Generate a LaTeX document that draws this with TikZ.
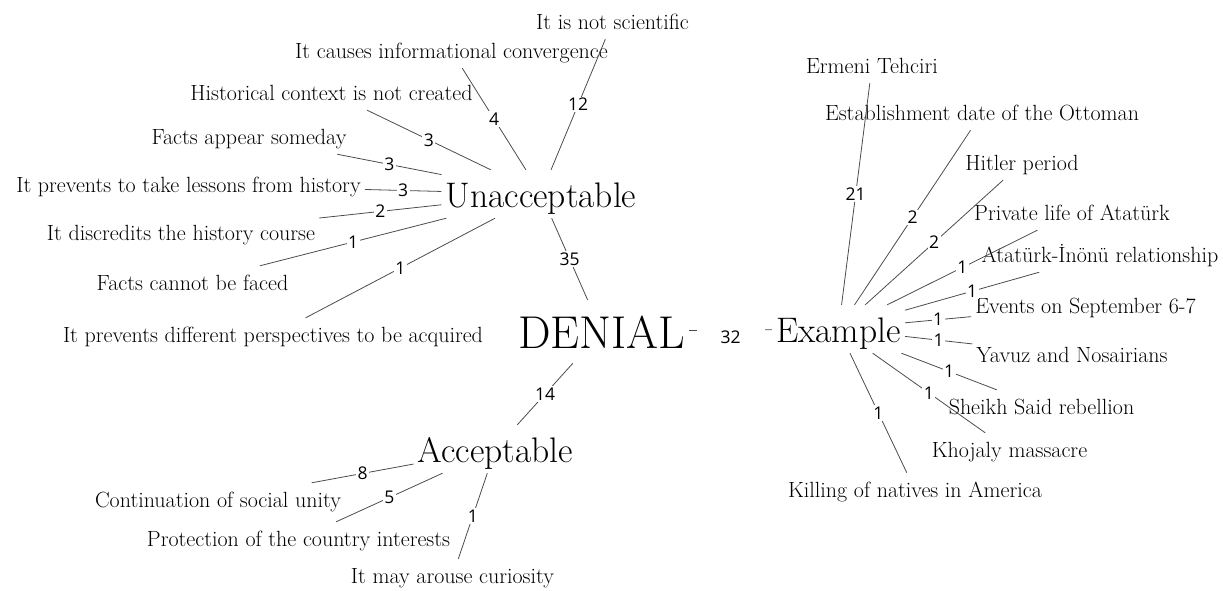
\documentclass[tikz,border=0pt]{standalone}
\usepackage{fontspec}
\newfontfamily\numfont{Open Sans}
\usepackage{tikz}
\tikzset{
    root/.style={font=\fontsize{46}{46}\selectfont, text height=46pt, text depth=13pt,
        inner xsep=4pt, inner ysep=2pt, anchor=base},
    cat/.style={font=\fontsize{35.5}{35.5}\selectfont, text height=35pt, text depth=9pt,
        inner xsep=4pt, inner ysep=2pt, anchor=base},
    leaf/.style={font=\fontsize{22}{22}\selectfont, text height=22pt, text depth=8pt,
        inner xsep=4pt, inner ysep=2pt, anchor=base},
    edge/.style={draw=black!70, line width=0.8pt},
    cnt/.style={font=\numfont\fontsize{17.5}{17.5}\selectfont, fill=white,
        inner sep=1.5pt, midway}
}
\newcommand{\branch}[3] {
	\draw[edge] (#1) -- node[cnt] {#3} (#2);
}

\begin{document}
\begin{tikzpicture}[x=1pt, y=-1pt]
		\useasboundingbox (0,0) rectangle (1223,590);

		% centre and categories
		\node[root] (denial) at (601.5,348) {DENIAL};
		\node[cat] (unacc) at (541,207) {Unacceptable};
		\node[cat] (acc) at (495.5,462) {Acceptable};
		\node[cat] (exam) at (838.5,342) {Example};

		% Unacceptable side
		\node[leaf] (u1) at (612.5,29) {It is not scientific};
		\node[leaf] (u2) at (451.5,58) {It causes informational convergence};
		\node[leaf] (u3) at (331.5,100) {Historical context is not created};
		\node[leaf] (u4) at (249,144) {Facts appear someday};
		\node[leaf] (u5) at (188.5,192) {It prevents to take lessons from history};
		\node[leaf] (u6) at (181,240) {It discredits the history course};
		\node[leaf] (u7) at (192.5,290) {Facts cannot be faced};
		\node[leaf] (u8) at (273,342) {It prevents different perspectives to be acquired};

		% Acceptable side
		\node[leaf] (a1) at (218,507) {Continuation of social unity};
		\node[leaf] (a2) at (298.5,546) {Protection of the country interests};
		\node[leaf] (a3) at (452.5,583) {It may arouse curiosity};

		% Example side
		\node[leaf] (e1) at (872,73) {Ermeni Tehciri};
		\node[leaf] (e2) at (982,120) {Establishment date of the Ottoman};
		\node[leaf] (e3) at (1022,170) {Hitler period};
		\node[leaf] (e4) at (1072,220) {Private life of Atatürk};
		\node[leaf] (e5) at (1100,262) {Atatürk-İnönü relationship};
		\node[leaf] (e6) at (1085.5,313) {Events on September 6-7};
		\node[leaf] (e7) at (1072,362) {Yavuz and Nosairians};
		\node[leaf] (e8) at (1041.5,414) {Sheikh Said rebellion};
		\node[leaf] (e9) at (1009.5,457) {Khojaly massacre};
		\node[leaf] (e10) at (915,497) {Killing of natives in America};

		% links
		\branch{unacc}{denial}{35}
		\branch{denial}{acc}{14}
		\draw[edge] (denial) -- node[cnt, minimum width=68pt, yshift=-7pt] {32} (exam);

		\branch{unacc}{u1}{12}
		\branch{unacc}{u2}{4}
		\branch{unacc}{u3}{3}
		\branch{unacc}{u4}{3}
		\branch{unacc}{u5}{3}
		\branch{unacc}{u6}{2}
		\branch{unacc}{u7}{1}
		\branch{unacc}{u8}{1}

		\branch{acc}{a1}{8}
		\branch{acc}{a2}{5}
		\branch{acc}{a3}{1}

		\branch{exam}{e1}{21}
		\branch{exam}{e2}{2}
		\branch{exam}{e3}{2}
		\branch{exam}{e4}{1}
		\branch{exam}{e5}{1}
		\branch{exam}{e6}{1}
		\branch{exam}{e7}{1}
		\branch{exam}{e8}{1}
		\branch{exam}{e9}{1}
		\branch{exam}{e10}{1}

	\end{tikzpicture}
\end{document}
